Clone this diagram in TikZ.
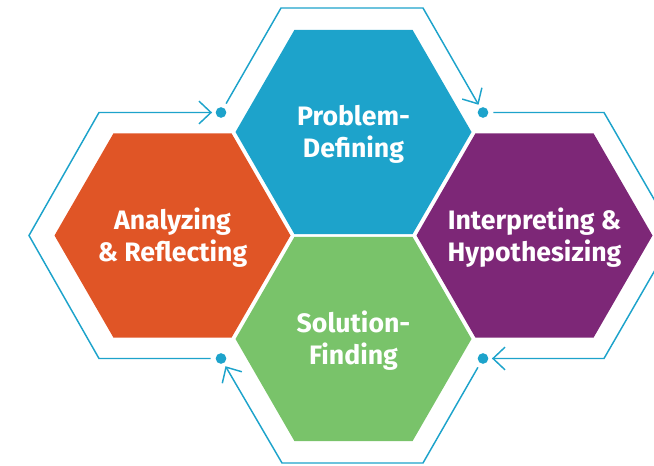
\documentclass[tikz,border=0pt]{standalone}
\usepackage{fontspec}
\setmainfont{Fira Sans}
\usetikzlibrary{shapes.geometric}
\usetikzlibrary{arrows.meta}
\definecolor{pdblue}{HTML}{1DA3CB}
\definecolor{arorange}{HTML}{E05526}
\definecolor{ihpurple}{HTML}{7D2777}
\definecolor{sfgreen}{HTML}{79C36A}
\begin{document}
\begin{tikzpicture}
[x=0.75pt, y=-0.75pt,
hexa/.style ={regular polygon, regular polygon sides=6,
minimum size=177pt, inner sep=0pt, outer sep=0pt},
txt/.style ={text=white, align=center, yshift=-1.5pt,
font=\bfseries\fontsize{20}{24}\selectfont},
dot/.style ={circle, fill=pdblue, minimum size=8pt, inner sep=0pt},
cycle/.style ={draw=pdblue, line width=1.1pt,
-{Straight Barb[length=9pt,width=17pt]},
shorten <=3.5pt, shorten >=2.5pt}]
\useasboundingbox (0,0) rectangle (654,466);
\clip (0,0) rectangle (654,466);
% hexagons
\node [hexa, fill=pdblue] (pd) at (353.5,132) {};
\node [hexa, fill=arorange] (ar) at (172.5,235.5) {};
\node [hexa, fill=ihpurple] (ih) at (534.5,235.5) {};
\node [hexa, fill=sfgreen] (sf) at (353.5,339) {};
% labels
\node [txt] (pdtext) at (pd) {Problem-\\Defining};
\node [txt] (artext) at (ar) {Analyzing\\\& Reflecting};
\node [txt] (ihtext) at (ih) {Interpreting \&\\Hypothesizing};
\node [txt] (sftext) at (sf) {Solution-\\Finding};
% dots
\node [dot] (tl) at (221,112.5) {};
\node [dot] (tr) at (483,112.5) {};
\node [dot] (br) at (483,358.5) {};
\node [dot] (bl) at (221,358.5) {};
% cycle
\draw [cycle] (tl) -- (281,8) -- (423,8) -- (tr);
\draw [cycle] (tr) -- (604,112.5) -- (675,235.5) -- (604,358.5) -- (br);
\draw [cycle] (br) -- (423,463) -- (282,463) -- (bl);
\draw [cycle] (bl) -- (99,358.5) -- (29,235.5) -- (99,112.5) -- (tl);
\end{tikzpicture}
\end{document}
